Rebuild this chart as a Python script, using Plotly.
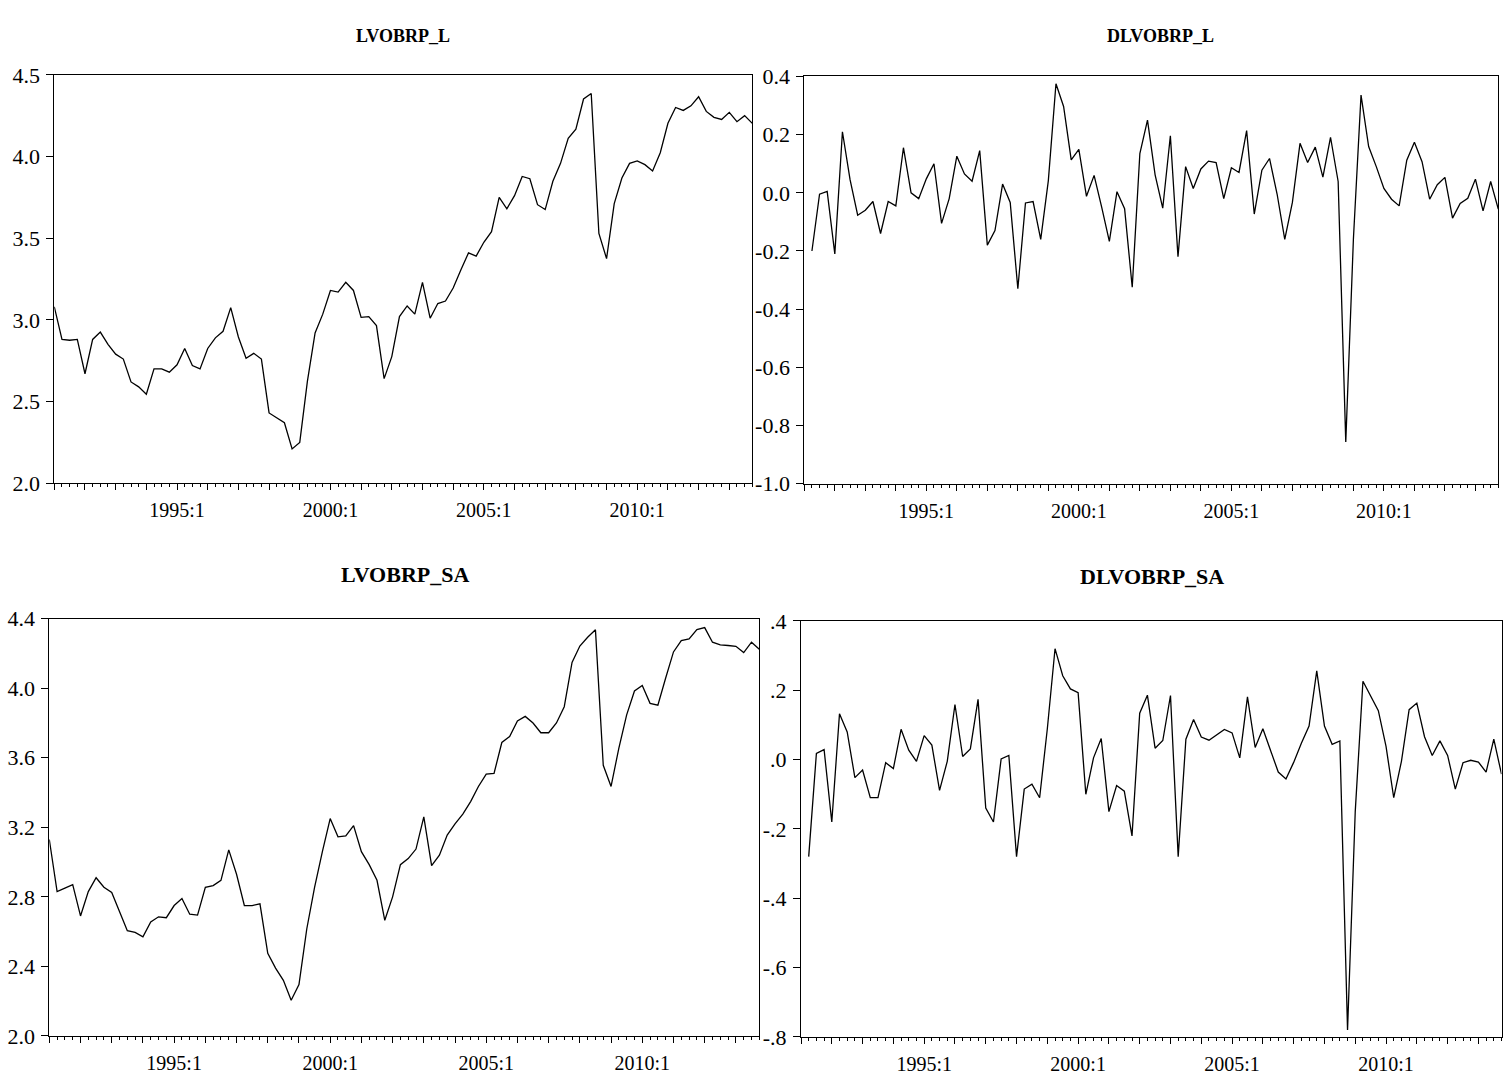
import plotly.graph_objects as go

# ---------------- data (quarterly, 1991:1 - 2013:4) ----------------
start_year = 1991
n_obs = 92

lvobrp_l = [3.08, 2.88, 2.875, 2.88, 2.67, 2.88, 2.925, 2.85, 2.79, 2.76,
            2.62, 2.59, 2.545, 2.70, 2.70, 2.68, 2.725, 2.825, 2.72, 2.70,
            2.825, 2.89, 2.93, 3.075, 2.895, 2.765, 2.795, 2.76, 2.43, 2.40,
            2.37, 2.21, 2.25, 2.625, 2.92, 3.035, 3.18, 3.17, 3.23, 3.18,
            3.015, 3.02, 2.965, 2.64, 2.775, 3.02, 3.085, 3.035, 3.23, 3.01,
            3.10, 3.115, 3.195, 3.305, 3.41, 3.39, 3.475, 3.54, 3.75, 3.68,
            3.76, 3.878, 3.864, 3.705, 3.675, 3.848, 3.958, 4.111, 4.167, 4.352,
            4.386, 3.529, 3.375, 3.712, 3.868, 3.958, 3.973, 3.95, 3.911, 4.023,
            4.203, 4.30, 4.282, 4.31, 4.366, 4.276, 4.24, 4.227, 4.27, 4.213,
            4.25, 4.203]

dlvobrp_l = [-0.20, -0.005, 0.005, -0.21, 0.21, 0.045, -0.077, -0.06, -0.03, -0.14,
             -0.03, -0.045, 0.155, 0.0, -0.02, 0.048, 0.10, -0.105, -0.02, 0.126,
             0.065, 0.04, 0.145, -0.18, -0.13, 0.03, -0.033, -0.33, -0.035, -0.03,
             -0.16, 0.042, 0.375, 0.297, 0.113, 0.149, -0.012, 0.06, -0.05, -0.167,
             0.004, -0.055, -0.325, 0.135, 0.25, 0.062, -0.053, 0.196, -0.22, 0.09,
             0.015, 0.082, 0.109, 0.104, -0.02, 0.086, 0.07, 0.214, -0.073, 0.078,
             0.118, -0.005, -0.16, -0.033, 0.17, 0.104, 0.157, 0.054, 0.191, 0.039,
             -0.857, -0.16, 0.336, 0.159, 0.09, 0.015, -0.022, -0.045, 0.112, 0.174,
             0.107, -0.022, 0.028, 0.053, -0.087, -0.037, -0.019, 0.047, -0.062, 0.039,
             -0.056]

lvobrp_sa = [3.13, 2.83, 2.85, 2.87, 2.69, 2.83, 2.91, 2.855, 2.825, 2.715,
             2.605, 2.595, 2.57, 2.655, 2.685, 2.68, 2.75, 2.79, 2.70, 2.695,
             2.855, 2.865, 2.895, 3.07, 2.93, 2.75, 2.75, 2.76, 2.475, 2.39,
             2.32, 2.205, 2.295, 2.615, 2.855, 3.06, 3.25, 3.145, 3.15, 3.21,
             3.06, 2.985, 2.895, 2.665, 2.80, 2.985, 3.02, 3.075, 3.26, 2.98,
             3.04, 3.155, 3.22, 3.276, 3.348, 3.435, 3.506, 3.51, 3.688, 3.722,
             3.812, 3.838, 3.80, 3.744, 3.744, 3.80, 3.894, 4.149, 4.243, 4.293,
             4.336, 3.557, 3.435, 3.656, 3.847, 3.984, 4.016, 3.913, 3.903, 4.059,
             4.209, 4.274, 4.284, 4.338, 4.349, 4.265, 4.25, 4.246, 4.241, 4.205,
             4.265, 4.224]

dlvobrp_sa = [-0.28, 0.018, 0.029, -0.18, 0.132, 0.08, -0.052, -0.03, -0.11, -0.11,
              -0.009, -0.026, 0.0875, 0.027, -0.005, 0.069, 0.042, -0.089, -0.005, 0.159,
              0.009, 0.031, 0.174, -0.14, -0.18, 0.002, 0.012, -0.28, -0.085, -0.071,
              -0.11, 0.089, 0.32, 0.242, 0.204, 0.193, -0.10, 0.005, 0.061, -0.15,
              -0.075, -0.091, -0.22, 0.134, 0.186, 0.033, 0.055, 0.185, -0.28, 0.059,
              0.116, 0.065, 0.056, 0.072, 0.087, 0.077, 0.005, 0.181, 0.035, 0.089,
              0.028, -0.036, -0.056, -0.008, 0.047, 0.097, 0.256, 0.097, 0.044, 0.054,
              -0.78, -0.15, 0.226, 0.185, 0.141, 0.038, -0.11, -0.005, 0.144, 0.163,
              0.066, 0.012, 0.054, 0.012, -0.085, -0.009, -0.002, -0.007, -0.036, 0.059,
              -0.042]

titles = ["LVOBRP_L", "DLVOBRP_L", "LVOBRP_SA", "DLVOBRP_SA"]
label_years = [1995, 2000, 2005, 2010]

yticks_tl = [2.0, 2.5, 3.0, 3.5, 4.0, 4.5]
yticks_tr = [-1.0, -0.8, -0.6, -0.4, -0.2, 0.0, 0.2, 0.4]
yticks_bl = [2.0, 2.4, 2.8, 3.2, 3.6, 4.0, 4.4]
yticks_br = [-0.8, -0.6, -0.4, -0.2, 0.0, 0.2, 0.4]
yticktext_br = ["-.8", "-.6", "-.4", "-.2", ".0", ".2", ".4"]

# ---------------- x positions from period index ----------------
x_level = [start_year + i / 4 for i in range(n_obs)]
x_diff = x_level[1:]
x_end = x_level[-1]

W, H = 1503, 1087
FONT = "Liberation Serif, Times New Roman, serif"


def dom_x(a, b):
    return [a / W, b / W]


def dom_y(top, bottom):
    return [1 - bottom / H, 1 - top / H]


year_ticks = list(range(start_year, 2014))
year_text = [f"{y}:1" if y in label_years else "" for y in year_ticks]
quarter_ticks = [v for v in x_level if abs(v - round(v)) > 1e-9]

fig = go.Figure()
series = [(x_level, lvobrp_l), (x_diff, dlvobrp_l), (x_level, lvobrp_sa), (x_diff, dlvobrp_sa)]
for i, (xs, ys) in enumerate(series):
    sfx = "" if i == 0 else str(i + 1)
    fig.add_trace(go.Scatter(x=xs, y=ys, mode="lines",
                             line=dict(color="black", width=1.3),
                             xaxis="x" + sfx, yaxis="y" + sfx,
                             showlegend=False, hoverinfo="skip"))

panels = [
    # x-domain px, y-domain px, y range, y ticks, y ticktext
    ((54.3, 752.3), (64.3, 482.3), [2.0, 4.5], yticks_tl, [f"{v:.1f}" for v in yticks_tl]),
    ((804.3, 1498.3), (66.0, 482.7), [-1.0, 0.4], yticks_tr, [f"{v:.1f}" for v in yticks_tr]),
    ((49.3, 759.3), (621.0, 1048.0), [2.0, 4.4], yticks_bl, [f"{v:.1f}" for v in yticks_bl]),
    ((801.0, 1501.5), (623.3, 1049.0), [-0.8, 0.4], yticks_br, yticktext_br),
]

layout = dict(
    width=W, height=H,
    margin=dict(l=0, r=0, t=0, b=0),
    paper_bgcolor="white", plot_bgcolor="white",
    font=dict(family=FONT, color="black"),
    showlegend=False,
)

for i, (xd, yd, yr, yt, ytt) in enumerate(panels):
    sfx = "" if i == 0 else str(i + 1)
    layout["xaxis" + sfx] = dict(
        domain=dom_x(*xd), anchor="y" + sfx,
        range=[start_year, x_end], showgrid=False, zeroline=False,
        showline=True, linecolor="black", linewidth=1, mirror=True,
        tickmode="array", tickvals=year_ticks, ticktext=year_text,
        ticks="outside", ticklen=6, tickwidth=1, tickcolor="black",
        tickfont=dict(family=FONT, size=20, color="black"),
        ticklabelstandoff=3,
        minor=dict(tickmode="array", tickvals=quarter_ticks, ticks="outside",
                   ticklen=3, tickwidth=1, tickcolor="black", showgrid=False),
        fixedrange=True,
    )
    layout["yaxis" + sfx] = dict(
        domain=dom_y(*yd), anchor="x" + sfx,
        range=yr, showgrid=False, zeroline=False,
        showline=True, linecolor="black", linewidth=1, mirror=True,
        tickmode="array", tickvals=yt, ticktext=ytt,
        ticks="outside", ticklen=7, tickwidth=1, tickcolor="black",
        tickfont=dict(family=FONT, size=22, color="black"),
        ticklabelstandoff=2,
        fixedrange=True,
    )

fig.update_layout(**layout)

title_specs = [
    (403, 25, 18), (1160, 25, 18), (405, 576, 22), (1152, 578, 22),
]
for t, (cx, cy, fs) in zip(titles, title_specs):
    fig.add_annotation(text=f"<b>{t}</b>", x=cx / W, y=1 - cy / H,
                       xref="paper", yref="paper", showarrow=False,
                       xanchor="center", yanchor="middle",
                       font=dict(family=FONT, size=fs, color="black"))

fig.write_html("out.html")
